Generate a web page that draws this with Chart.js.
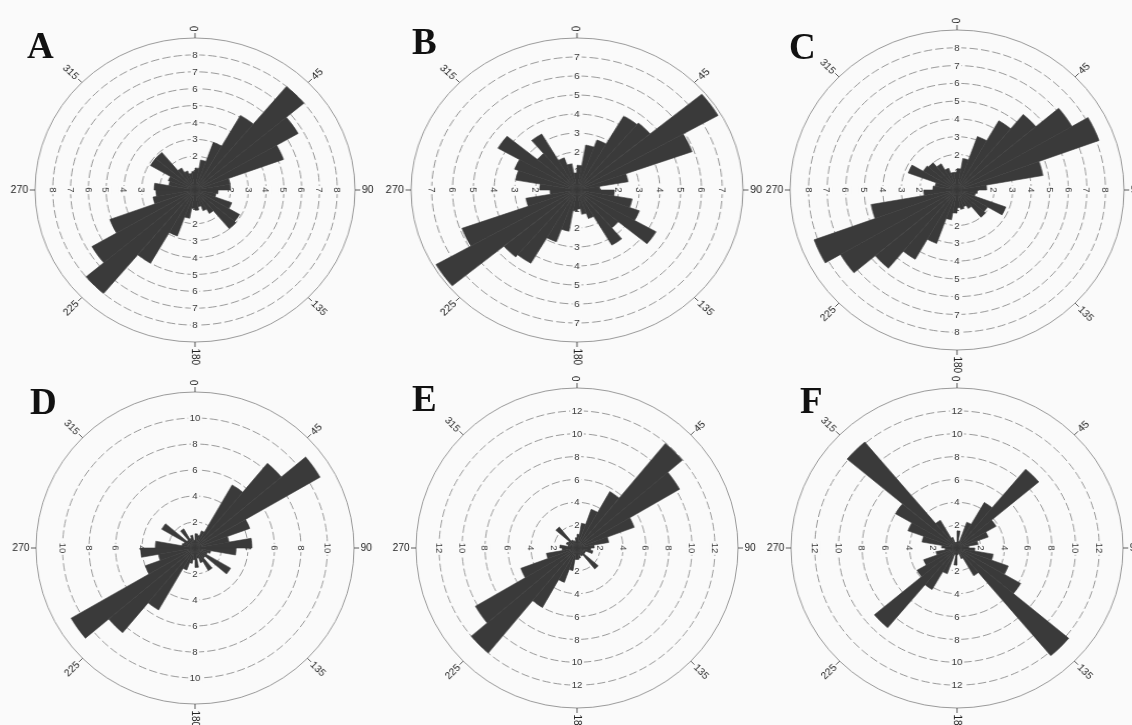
<!DOCTYPE html>
<html>
<head>
<meta charset="utf-8">
<title>Rose diagrams A–F</title>
<script src="https://cdn.jsdelivr.net/npm/chart.js@4.4.0/dist/chart.umd.min.js"></script>
<style>
  html, body { margin: 0; padding: 0; background: #fafafa; }
  #fig { position: relative; width: 1132px; height: 725px; overflow: hidden; background: #fafafa; }
  .panel { position: absolute; }
  .tag { position: absolute; font: bold 37px "Liberation Serif", "Times New Roman", serif; line-height: 37px; color: #111; }
</style>
</head>
<body>
<div id="fig"></div>
<script>
// 10-degree direction classes, clockwise from north
const sectorLabels = Array.from({ length: 36 }, (_, i) => `${i * 10}–${i * 10 + 10}°`);
const compassTicks = [0, 45, 90, 135, 180, 225, 270, 315];
const panelNames = ['A', 'B', 'C', 'D', 'E', 'F'];

// frequency per direction class (0–10°, 10–20°, … 350–360°)
const roseA = [1.3, 1.8, 3.0, 5.1, 8.0, 6.7, 5.3, 2.0, 2.0, 1.3, 1.2, 2.2, 2.9, 3.0, 1.6, 1.3, 1.0, 1.2,
               1.1, 1.7, 2.9, 5.0, 8.0, 6.7, 5.1, 2.4, 2.2, 2.3, 1.5, 1.6, 2.9, 2.9, 1.5, 1.2, 1.0, 1.1];
const roseB = [1.3, 2.4, 2.8, 4.5, 4.6, 7.85, 5.9, 2.5, 1.1, 1.8, 2.7, 3.2, 4.4, 2.6, 3.35, 1.6, 1.3, 1.0,
               1.1, 2.2, 2.9, 4.45, 4.6, 7.85, 5.9, 2.5, 1.3, 1.8, 3.0, 3.2, 4.4, 2.5, 3.4, 1.8, 1.4, 0.9];
const roseC = [1.2, 1.8, 3.2, 4.5, 5.55, 7.15, 8.15, 4.7, 1.6, 1.1, 1.0, 2.8, 1.9, 2.0, 1.2, 1.0, 1.1, 1.0,
               1.3, 1.7, 3.2, 4.5, 5.75, 7.25, 8.2, 4.7, 1.8, 1.3, 1.2, 2.8, 2.1, 2.0, 1.7, 1.3, 1.0, 1.0];
const roseD = [1.1, 1.0, 1.4, 5.6, 8.5, 10.9, 4.4, 2.6, 4.3, 3.1, 1.2, 1.0, 3.1, 1.0, 2.0, 1.2, 0.8, 1.5,
               0.9, 1.2, 1.8, 5.5, 8.5, 10.8, 4.0, 2.8, 4.1, 3.0, 1.0, 0.9, 2.9, 0.8, 1.7, 0.8, 1.0, 0.6];
const roseE = [1.2, 2.2, 3.6, 5.7, 11.95, 10.3, 5.3, 2.8, 1.5, 1.2, 1.4, 0.8, 0.8, 2.4, 0.8, 0.7, 0.9, 1.0,
               1.0, 2.0, 3.2, 6.0, 12.0, 10.2, 5.2, 2.7, 1.3, 1.5, 0.8, 1.0, 0.9, 2.4, 0.8, 0.7, 0.6, 0.9];
const roseF = [1.5, 0.6, 2.4, 4.6, 9.0, 3.8, 2.8, 1.8, 1.0, 1.5, 3.1, 4.6, 6.2, 12.3, 2.8, 1.0, 0.5, 0.6,
               1.5, 0.6, 2.4, 4.2, 9.1, 3.9, 3.0, 1.8, 1.0, 1.3, 3.0, 4.4, 6.0, 12.1, 2.8, 1.0, 0.5, 0.5];

// radial axis: outer circle value and ring step
const axisMax  = [9, 8, 9, 12, 14, 14];
const axisStep = [1, 1, 1, 2, 2, 2];

const roses = [roseA, roseB, roseC, roseD, roseE, roseF];

// panel placement: centre, horizontal / vertical outer radius, letter position
const layout = [
  { cx: 195, cy: 190, rx: 160, ry: 152, tagX: 27,  tagY: 27 },
  { cx: 577, cy: 190, rx: 166, ry: 152, tagX: 412, tagY: 23 },
  { cx: 957, cy: 190, rx: 167, ry: 160, tagX: 789, tagY: 28 },
  { cx: 195, cy: 548, rx: 159, ry: 156, tagX: 30,  tagY: 383 },
  { cx: 577, cy: 548, rx: 161, ry: 160, tagX: 412, tagY: 380 },
  { cx: 957, cy: 548, rx: 166, ry: 160, tagX: 800, tagY: 382 }
];

const petalFill = '#3a3a3a';
const gridColor = '#8e8e8e';
const paperColor = '#fafafa';
const labelFont = '9.5px "Liberation Sans", Arial, sans-serif';
const compassFont = '10px "Liberation Sans", Arial, sans-serif';
const PAD = 34;

// ring labels on the four half-axes (beneath the petals), compass ticks and the solid outer circle
const roseDecor = {
  id: 'roseDecor',
  beforeDatasetsDraw(chart) {
    const sc = chart.scales.r;
    const ctx = chart.ctx;
    const xc = sc.xCenter, yc = sc.yCenter;
    const R = sc.getDistanceFromCenterForValue(sc.max);

    ctx.save();
    ctx.strokeStyle = gridColor;
    ctx.lineWidth = 0.9;
    ctx.beginPath();
    ctx.arc(xc, yc, R, 0, Math.PI * 2);
    ctx.stroke();
    ctx.restore();

    const tag = (x, y, rot, text) => {
      ctx.save();
      ctx.translate(x, y);
      ctx.rotate(rot);
      ctx.font = labelFont;
      const w = ctx.measureText(text).width;
      ctx.fillStyle = paperColor;
      ctx.fillRect(-w / 2 - 1.5, -5, w + 3, 10);
      ctx.fillStyle = '#3c3c3c';
      ctx.textAlign = 'center';
      ctx.textBaseline = 'middle';
      ctx.fillText(text, 0, 0.5);
      ctx.restore();
    };

    sc.ticks.forEach(t => {
      if (t.value <= sc.min || t.value >= sc.max) return;
      const d = sc.getDistanceFromCenterForValue(t.value);
      const s = String(t.value);
      tag(xc, yc - d, 0, s);
      tag(xc, yc + d, 0, s);
      tag(xc + d, yc, Math.PI / 2, s);
      tag(xc - d, yc, Math.PI / 2, s);
    });
  },
  afterDatasetsDraw(chart) {
    const sc = chart.scales.r;
    const ctx = chart.ctx;
    const xc = sc.xCenter, yc = sc.yCenter;
    const R = sc.getDistanceFromCenterForValue(sc.max);

    ctx.save();
    ctx.strokeStyle = '#4a4a4a';
    ctx.lineWidth = 0.9;
    ctx.fillStyle = '#222';
    ctx.font = compassFont;
    ctx.textBaseline = 'middle';
    compassTicks.forEach(deg => {
      const a = deg * Math.PI / 180;
      const ux = Math.sin(a), uy = -Math.cos(a);
      ctx.beginPath();
      ctx.moveTo(xc + ux * R, yc + uy * R);
      ctx.lineTo(xc + ux * (R + 5), yc + uy * (R + 5));
      ctx.stroke();
      let rot = a - Math.PI / 2;
      let align = 'left';
      if (rot > Math.PI / 2 + 1e-6) { rot -= Math.PI; align = 'right'; }
      ctx.save();
      ctx.translate(xc + ux * (R + 6.5), yc + uy * (R + 6.5));
      ctx.rotate(rot);
      ctx.textAlign = align;
      ctx.fillText(String(deg), 0, 0.5);
      ctx.restore();
    });
    ctx.restore();
  }
};

const fig = document.getElementById('fig');

roses.forEach((values, k) => {
  const L = layout[k];
  const M = axisMax[k];
  const size = 2 * (L.ry + PAD);

  const holder = document.createElement('div');
  holder.className = 'panel';
  holder.style.left = (L.cx - size / 2) + 'px';
  holder.style.top = (L.cy - size / 2) + 'px';
  holder.style.width = size + 'px';
  holder.style.height = size + 'px';
  holder.style.transformOrigin = '50% 50%';
  holder.style.transform = `scaleX(${L.rx / L.ry})`;
  const canvas = document.createElement('canvas');
  canvas.width = size;
  canvas.height = size;
  canvas.style.width = size + 'px';
  canvas.style.height = size + 'px';
  holder.appendChild(canvas);
  fig.appendChild(holder);

  new Chart(canvas, {
    type: 'polarArea',
    data: {
      labels: sectorLabels,
      datasets: [{
        data: values,
        backgroundColor: petalFill,
        borderColor: petalFill,
        borderWidth: 0.6
      }]
    },
    options: {
      responsive: false,
      animation: false,
      events: [],
      layout: { padding: PAD },
      plugins: { legend: { display: false }, tooltip: { enabled: false } },
      scales: {
        r: {
          min: 0,
          max: M,
          startAngle: 0,
          ticks: { stepSize: axisStep[k], display: false },
          grid: {
            circular: true,
            lineWidth: 0.9,
            color: c => (c.tick && c.tick.value >= M) ? 'rgba(0,0,0,0)' : gridColor
          },
          border: { dash: [8, 3] },
          angleLines: { display: false },
          pointLabels: { display: false }
        }
      }
    },
    plugins: [roseDecor]
  });

  const t = document.createElement('div');
  t.className = 'tag';
  t.textContent = panelNames[k];
  t.style.left = L.tagX + 'px';
  t.style.top = L.tagY + 'px';
  fig.appendChild(t);
});
</script>
</body>
</html>
